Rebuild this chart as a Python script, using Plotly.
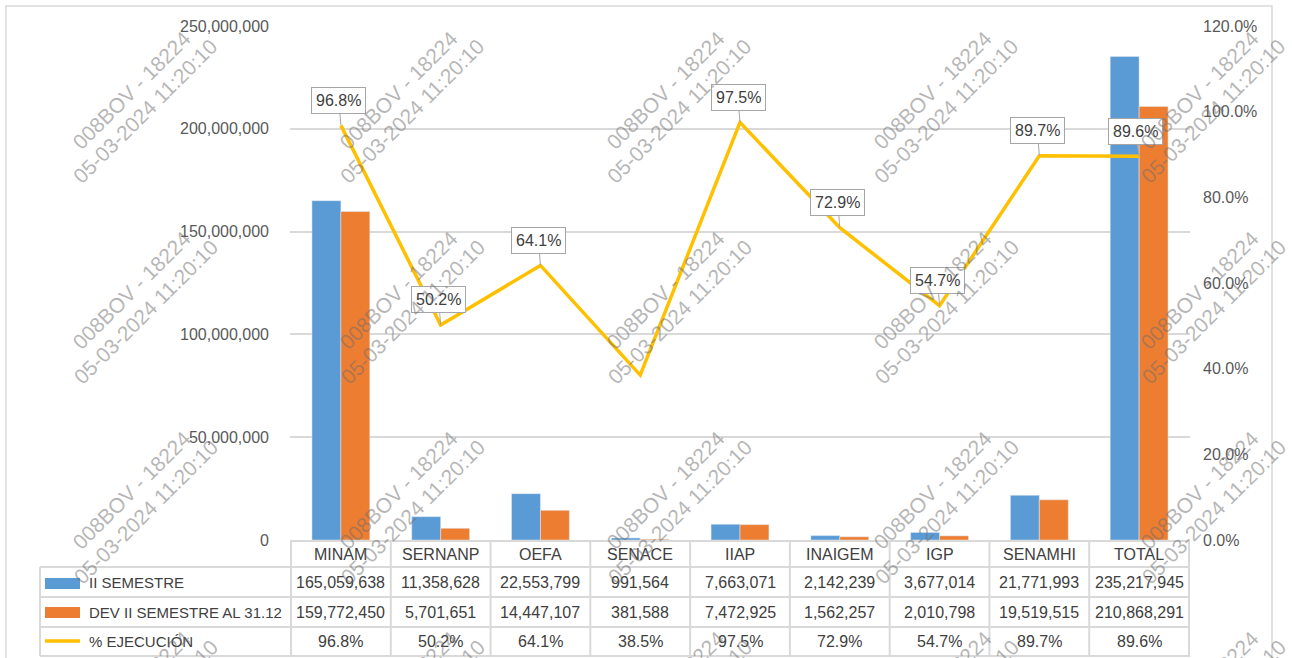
import plotly.graph_objects as go

categories = ["MINAM", "SERNANP", "OEFA", "SENACE", "IIAP", "INAIGEM", "IGP", "SENAMHI", "TOTAL"]
ii_semestre = [165059638, 11358628, 22553799, 991564, 7663071, 2142239, 3677014, 21771993, 235217945]
dev_ii_semestre = [159772450, 5701651, 14447107, 381588, 7472925, 1562257, 2010798, 19519515, 210868291]
pct_ejecucion = [0.968, 0.502, 0.641, 0.385, 0.975, 0.729, 0.547, 0.897, 0.896]
series_names = ["II SEMESTRE", "DEV II SEMESTRE AL 31.12", "% EJECUCIÓN"]
left_ticks = [0, 50000000, 100000000, 150000000, 200000000, 250000000]
right_ticks = [0.0, 0.2, 0.4, 0.6, 0.8, 1.0, 1.2]
watermark_lines = ["008BOV - 18224", "05-03-2024 11:20:10"]

# body margin removed via post_script, so figure pixels == reference pixels
PLOT_L, PLOT_R, PLOT_T, PLOT_B = 290, 1190, 26, 540
W, H = 1292, 658
ML = PLOT_L
MT = PLOT_T
PW = PLOT_R - PLOT_L
PH = PLOT_B - PLOT_T
MR = W - ML - PW
MB = H - MT - PH

def px(x):
    return (x - PLOT_L) / PW

def py(y):
    return (PLOT_B - y) / PH

BLUE = "#5B9BD5"
ORANGE = "#ED7D31"
GOLD = "#FFC000"
GRID = "#D9D9D9"
TXT = "#404040"
FONT = "Liberation Sans, Arial, sans-serif"

fig = go.Figure()
fig.add_trace(go.Bar(x=categories, y=ii_semestre, name=series_names[0],
                     marker_color=BLUE, showlegend=False))
fig.add_trace(go.Bar(x=categories, y=dev_ii_semestre, name=series_names[1],
                     marker_color=ORANGE, showlegend=False))
fig.add_trace(go.Scatter(x=categories, y=pct_ejecucion, name=series_names[2],
                         mode="lines", line=dict(color=GOLD, width=3.5),
                         yaxis="y2", showlegend=False))

annotations = []
shapes = []

# data labels (callouts) -- SENACE label not shown in reference
for i, (c, p) in enumerate(zip(categories, pct_ejecucion)):
    if c == "SENACE":
        continue
    annotations.append(dict(
        x=c, y=p, xref="x", yref="y2", text=f"{p*100:.1f}%",
        showarrow=True, arrowhead=0, arrowwidth=1, arrowcolor="#A6A6A6",
        ax=-4 if c == "TOTAL" else -2, ay=-25, standoff=0,
        bgcolor="white", bordercolor="#A6A6A6", borderwidth=1, borderpad=4,
        font=dict(family=FONT, size=16, color=TXT)))

# table: header row + rows
row_tops = [567, 597, 627, 656]
row_centers = [554, 582, 612, 641]
for i, c in enumerate(categories):
    annotations.append(dict(x=c, y=py(row_centers[0]), xref="x", yref="paper",
                            text=c, showarrow=False, yanchor="middle",
                            font=dict(family=FONT, size=16, color=TXT)))
    annotations.append(dict(x=c, y=py(row_centers[1]), xref="x", yref="paper",
                            text=f"{ii_semestre[i]:,}", showarrow=False, yanchor="middle",
                            font=dict(family=FONT, size=16, color=TXT)))
    annotations.append(dict(x=c, y=py(row_centers[2]), xref="x", yref="paper",
                            text=f"{dev_ii_semestre[i]:,}", showarrow=False, yanchor="middle",
                            font=dict(family=FONT, size=16, color=TXT)))
    annotations.append(dict(x=c, y=py(row_centers[3]), xref="x", yref="paper",
                            text=f"{pct_ejecucion[i]*100:.1f}%", showarrow=False, yanchor="middle",
                            font=dict(family=FONT, size=16, color=TXT)))

for k, name in enumerate(series_names):
    annotations.append(dict(x=px(87), y=py(row_centers[k + 1]), xref="paper", yref="paper",
                            text=name, showarrow=False, xanchor="left", yanchor="middle",
                            font=dict(family=FONT, size=15, color=TXT)))

# legend keys
shapes.append(dict(type="rect", xref="paper", yref="paper", x0=px(45), x1=px(80),
                   y0=py(589), y1=py(578), fillcolor=BLUE, line=dict(width=0)))
shapes.append(dict(type="rect", xref="paper", yref="paper", x0=px(45), x1=px(80),
                   y0=py(618), y1=py(607), fillcolor=ORANGE, line=dict(width=0)))
shapes.append(dict(type="line", xref="paper", yref="paper", x0=px(45), x1=px(80),
                   y0=py(641), y1=py(641), line=dict(color=GOLD, width=3.5)))

# table lines
for yy in row_tops:
    shapes.append(dict(type="line", xref="paper", yref="paper", x0=px(40), x1=1.0,
                       y0=py(yy), y1=py(yy), line=dict(color=GRID, width=2)))
shapes.append(dict(type="line", xref="paper", yref="paper", x0=px(40), x1=px(40),
                   y0=py(567), y1=py(656), line=dict(color=GRID, width=2)))
for b in range(len(categories) + 1):
    shapes.append(dict(type="line", xref="x", yref="paper", x0=b - 0.5, x1=b - 0.5,
                       y0=0, y1=py(656), line=dict(color=GRID, width=2)))

# outer chart border
shapes.append(dict(type="rect", xref="paper", yref="paper", x0=px(6), x1=px(1272),
                   y0=py(720), y1=py(6), line=dict(color=GRID, width=1.5),
                   fillcolor="rgba(0,0,0,0)", layer="below"))

# watermarks
for j in range(4):
    for k in range(5):
        cx = 131 + 267 * k
        cy = 90 + 200 * j
        for n, t in enumerate(watermark_lines):
            annotations.append(dict(
                x=px(cx + 14 * n), y=py(cy + 22 * n), xref="paper", yref="paper",
                text=t, showarrow=False, textangle=-45,
                xanchor="center", yanchor="middle",
                font=dict(family=FONT, size=21, color="rgba(110,110,110,0.5)")))

fig.update_layout(
    width=W, height=H,
    margin=dict(l=ML, r=MR, t=MT, b=MB, autoexpand=False),
    paper_bgcolor="white", plot_bgcolor="white",
    barmode="group", bargap=0.42, bargroupgap=0,
    xaxis=dict(type="category", showticklabels=False, showgrid=False, zeroline=False,
               showline=True, linecolor=GRID, linewidth=1.5, ticks=""),
    yaxis=dict(range=[0, 250000000], tickvals=left_ticks, tickformat=",",
               showgrid=True, gridcolor=GRID, gridwidth=1.5, zeroline=False,
               showline=False, ticks="", ticklabelstandoff=20,
               tickfont=dict(family=FONT, size=16, color="#595959")),
    yaxis2=dict(range=[0, 1.2], tickvals=right_ticks, tickformat=".1%",
                overlaying="y", side="right", showgrid=False, zeroline=False,
                showline=False, ticks="", ticklabelstandoff=12,
                tickfont=dict(family=FONT, size=16, color="#595959")),
    annotations=annotations, shapes=shapes,
)

fig.write_html("out.html", config={"displayModeBar": False},
               post_script="document.body.style.margin='0px';document.body.style.overflow='hidden';")
